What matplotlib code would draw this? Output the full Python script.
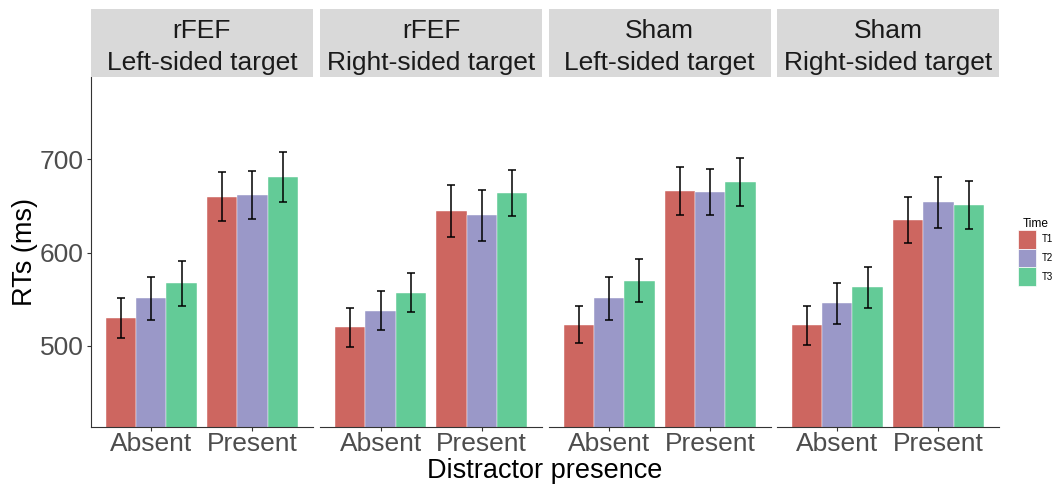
import numpy as np
import matplotlib.pyplot as plt
from matplotlib.patches import Patch

plt.rcParams['font.family'] = ['Liberation Sans', 'DejaVu Sans']

panels_top = ['rFEF', 'rFEF', 'Sham', 'Sham']
panels_bottom = ['Left-sided target', 'Right-sided target', 'Left-sided target', 'Right-sided target']
conditions = ['Absent', 'Present']
times = ['T1', 'T2', 'T3']
colors = ['#CD6660', '#9A98C8', '#63CB97']

# mean RTs, one row per panel: [Absent, Present]
t1_mean = [[530, 660], [520, 645], [523, 666], [522, 635]]
t2_mean = [[551, 662], [538, 640], [551, 665], [546, 654]]
t3_mean = [[567, 681], [557, 664], [570, 676], [563, 651]]
# error bar half-widths
t1_err = [[21, 26], [21, 28], [20, 26], [21, 25]]
t2_err = [[23, 26], [21, 27], [23, 25], [22, 27]]
t3_err = [[24, 27], [21, 25], [23, 26], [22, 26]]

means = [t1_mean, t2_mean, t3_mean]
errs = [t1_err, t2_err, t3_err]

W, H = 1054, 486
fig = plt.figure(figsize=(W / 100, H / 100), dpi=100)

lefts = [90.7, 320, 548.5, 776.7]
pw = 222.3
bottom_px, top_px, strip_top = 426.7, 77.3, 9
x = np.arange(1, len(conditions) + 1)
bw = 0.3

for p in range(4):
    ax = fig.add_axes([lefts[p] / W, 1 - bottom_px / H, pw / W, (bottom_px - top_px) / H])
    for k in range(3):
        ax.bar(x + (k - 1) * bw, [means[k][p][0], means[k][p][1]], bw, color=colors[k],
               edgecolor='white', linewidth=0.3, zorder=2)
        ax.errorbar(x + (k - 1) * bw, [means[k][p][0], means[k][p][1]],
                    yerr=[errs[k][p][0], errs[k][p][1]], fmt='none', ecolor='black',
                    elinewidth=1.1, capsize=3, capthick=1.1, zorder=3)
    ax.set_xlim(0.4, 2.6)
    ax.set_ylim(413.5, 788)
    ax.set_xticks(x)
    ax.set_xticklabels(conditions, fontsize=19, color='#4D4D4D')
    ax.set_yticks([500, 600, 700])
    for s in ['top', 'right']:
        ax.spines[s].set_visible(False)
    ax.spines['bottom'].set_color('#333333')
    ax.tick_params(axis='x', length=3, width=0.8, color='#333333', pad=1)
    if p == 0:
        ax.set_yticklabels(['500', '600', '700'], fontsize=19, color='#4D4D4D')
        ax.tick_params(axis='y', length=3, width=0.8, color='#333333', pad=2)
        ax.spines['left'].set_color('#333333')
        ax.set_ylabel('RTs (ms)', fontsize=19.5, labelpad=1)
    else:
        ax.spines['left'].set_visible(False)
        ax.tick_params(axis='y', left=False, labelleft=False)

    # facet strip
    sax = fig.add_axes([lefts[p] / W, 1 - top_px / H, pw / W, (top_px - strip_top) / H])
    sax.set_facecolor('#D9D9D9')
    sax.set_xticks([])
    sax.set_yticks([])
    for s in sax.spines.values():
        s.set_visible(False)
    sax.text(0.5, 0.68, panels_top[p], ha='center', va='center', fontsize=19, color='#1A1A1A')
    sax.text(0.5, 0.21, panels_bottom[p], ha='center', va='center', fontsize=19, color='#1A1A1A')

fig.text((90.7 + 999) / 2 / W, 1 - 471 / H, 'Distractor presence', ha='center', va='center',
         fontsize=19.5)

handles = [Patch(facecolor=c, edgecolor='white', linewidth=0.5) for c in colors]
fig.legend(handles, times, title='Time', loc='upper left',
           bbox_to_anchor=(1010 / W, 1 - 210 / H), frameon=False, fontsize=7,
           title_fontsize=8.6, handlelength=1.9, handleheight=2.6, labelspacing=0,
           handletextpad=0.6, borderpad=0.3)

fig.savefig('out.png', dpi=100)
